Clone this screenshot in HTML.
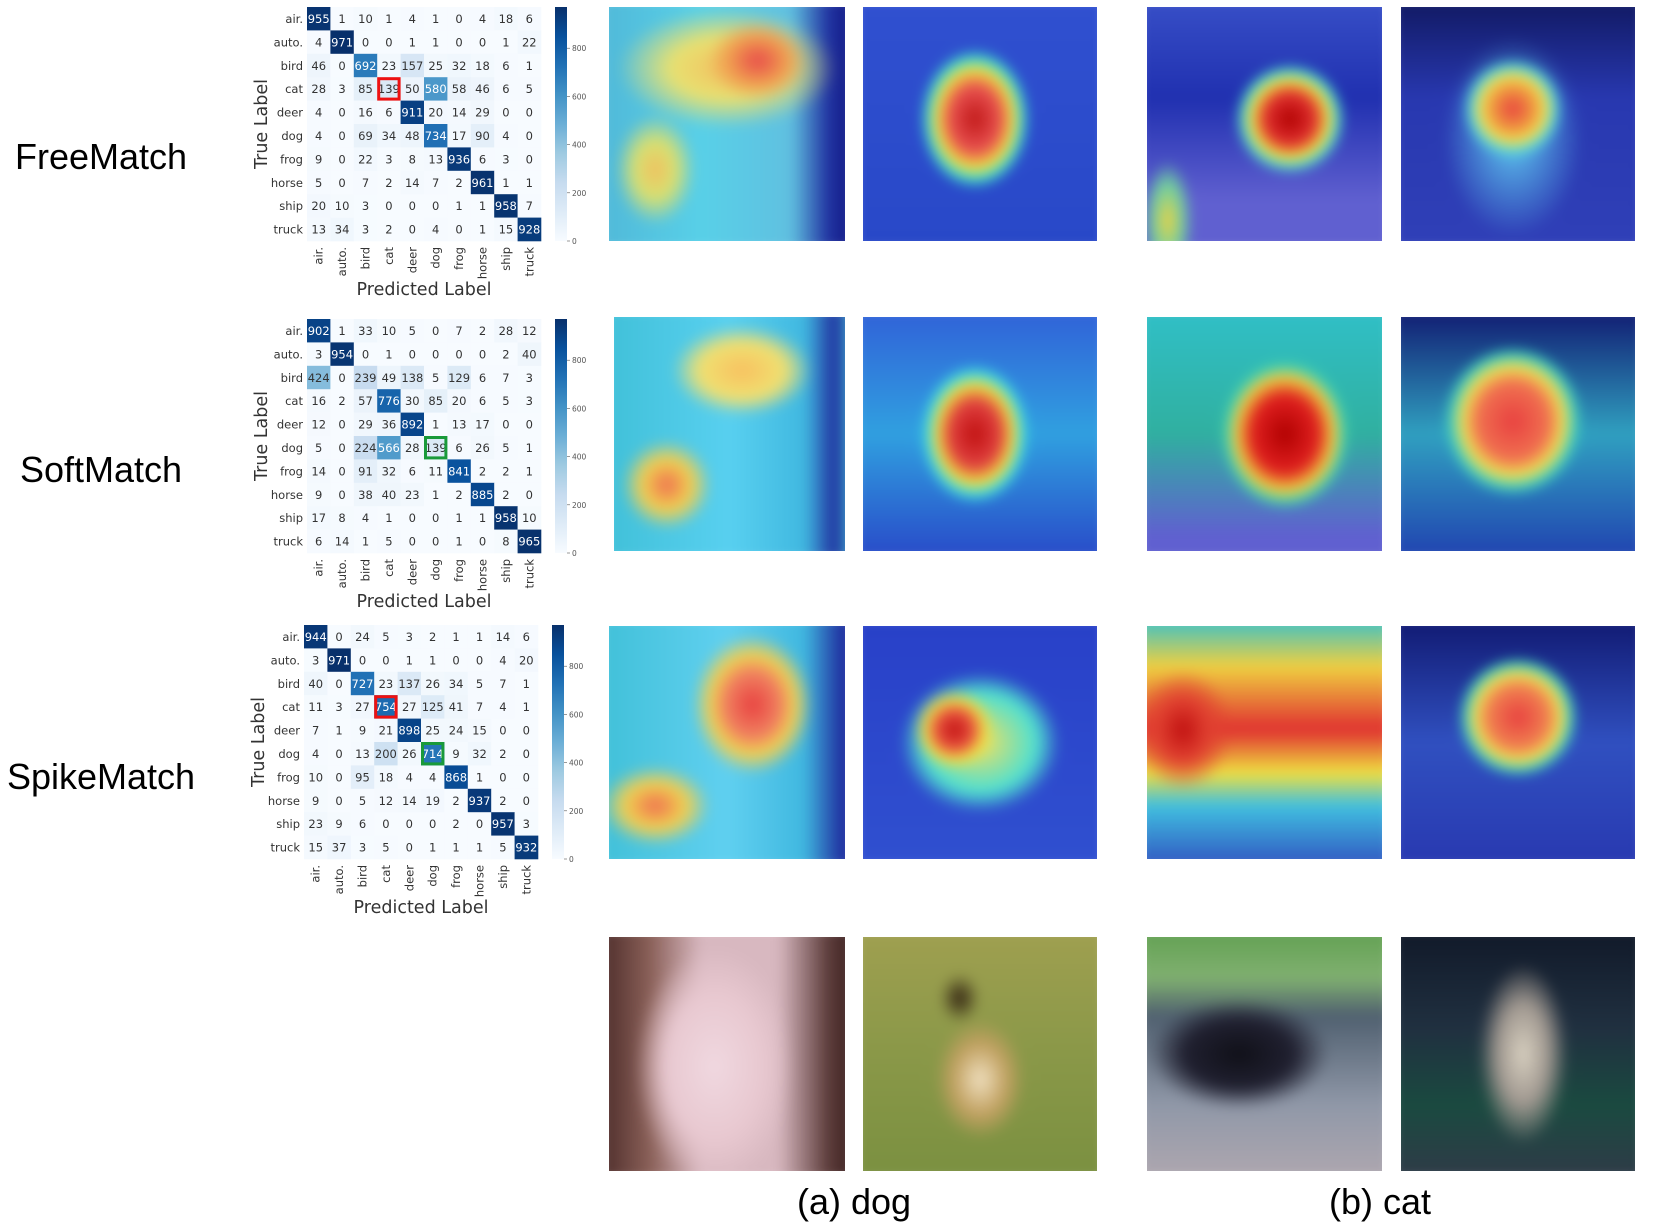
<!DOCTYPE html>
<html><head><meta charset="utf-8">
<style>
body{margin:0;width:1655px;height:1221px;background:#fff;position:relative;overflow:hidden;font-family:"Liberation Sans",sans-serif}
.lbl{position:absolute;font-size:36px;color:#000;transform:translate(-50%,-50%);white-space:nowrap}
.img{position:absolute;overflow:hidden}
.img>div{position:absolute;inset:-10px;filter:blur(6px)}
svg{position:absolute;left:0;top:0;font-family:"DejaVu Sans",sans-serif}
</style></head><body>
<div class="lbl" style="left:101px;top:157px">FreeMatch</div>
<div class="lbl" style="left:101px;top:470px">SoftMatch</div>
<div class="lbl" style="left:101px;top:777px">SpikeMatch</div>
<div class="lbl" style="left:854px;top:1202px">(a) dog</div>
<div class="lbl" style="left:1380px;top:1202px">(b) cat</div>

<!-- row 1 heatmaps -->
<div class="img" style="left:609px;top:7px;width:236px;height:234px"><div style="background:radial-gradient(ellipse 50px 40px at 62% 25%,#e84a4a,#f0a050 60%,transparent 100%),radial-gradient(ellipse 110px 60px at 50% 28%,#f2c060,#e8e070 50%,transparent 100%),radial-gradient(ellipse 40px 55px at 22% 68%,#f0c060,#d8e070 50%,transparent 100%),linear-gradient(90deg,#50b8d8,#58d0e8 40%,#60c0e0 75%,#2030a0 90%,#101880)"></div></div>
<div class="img" style="left:863px;top:7px;width:234px;height:234px"><div style="background:radial-gradient(ellipse 55px 70px at 48% 48%,#c01818,#e85050 45%,#f0e040 70%,#40e0d0 85%,transparent 100%),linear-gradient(#3050d0,#2848c8)"></div></div>
<div class="img" style="left:1147px;top:7px;width:235px;height:234px"><div style="background:radial-gradient(ellipse 55px 55px at 60% 48%,#b00000,#e03030 45%,#f0e040 70%,#50e0d0 85%,transparent 100%),radial-gradient(ellipse 25px 60px at 12% 88%,#f0d040,#70d0a0 60%,transparent 100%),linear-gradient(#3850c8,#2030b0 40%,#6060d0 80%)"></div></div>
<div class="img" style="left:1401px;top:7px;width:234px;height:234px"><div style="background:radial-gradient(ellipse 50px 50px at 48% 44%,#e84040,#f0a040 45%,#f0e050 65%,#50d8e0 85%,transparent 100%),radial-gradient(ellipse 70px 100px at 48% 55%,#60c8f0,transparent 100%),linear-gradient(#101860,#2838b0 40%,#3040b8)"></div></div>

<!-- row 2 -->
<div class="img" style="left:614px;top:317px;width:231px;height:234px"><div style="background:radial-gradient(ellipse 70px 45px at 55% 25%,#f8c060,#f0e070 60%,transparent 100%),radial-gradient(ellipse 45px 45px at 25% 70%,#f07050,#f0d050 55%,transparent 100%),linear-gradient(90deg,#40c0d8,#58d0f0 50%,#40b8e0 80%,#2030a0 92%,#40c0d0)"></div></div>
<div class="img" style="left:863px;top:317px;width:234px;height:234px"><div style="background:radial-gradient(ellipse 55px 70px at 48% 50%,#c01010,#e04040 45%,#f0e040 70%,#40e0e0 85%,transparent 100%),linear-gradient(#3060d8,#30a0e0 50%,#2848c8)"></div></div>
<div class="img" style="left:1147px;top:317px;width:235px;height:234px"><div style="background:radial-gradient(ellipse 65px 75px at 58% 50%,#b00000,#e02020 50%,#f0d040 75%,#40d0b0 90%,transparent 100%),linear-gradient(#30c0c8,#30b0a0 50%,#6060d0 90%)"></div></div>
<div class="img" style="left:1401px;top:317px;width:234px;height:234px"><div style="background:radial-gradient(ellipse 70px 75px at 48% 45%,#e84040,#f07050 50%,#f0e050 72%,#40d0c0 88%,transparent 100%),linear-gradient(#101870,#30a0c0 50%,#2040b0)"></div></div>

<!-- row 3 -->
<div class="img" style="left:609px;top:626px;width:236px;height:233px"><div style="background:radial-gradient(ellipse 60px 70px at 60% 35%,#e84040,#f08060 45%,#f0d050 70%,transparent 100%),radial-gradient(ellipse 55px 40px at 22% 75%,#f07050,#f0d050 55%,transparent 100%),linear-gradient(90deg,#40c0d8,#60d0f0 50%,#40b8e0 80%,#2030a0 95%)"></div></div>
<div class="img" style="left:863px;top:626px;width:234px;height:233px"><div style="background:radial-gradient(ellipse 40px 40px at 40% 45%,#c01010,#e85040 45%,#f0e040 75%,transparent 100%),radial-gradient(ellipse 80px 70px at 50% 50%,#f0e060,#50e0d0 70%,transparent 100%),linear-gradient(#2840c8,#3050d0)"></div></div>
<div class="img" style="left:1147px;top:626px;width:235px;height:233px"><div style="background:radial-gradient(ellipse 50px 60px at 18% 45%,#c01010,#e04030 50%,transparent 100%),linear-gradient(#30c0d0 0%,#f0d040 20%,#e03030 45%,#f0e040 62%,#40c0e0 75%,#3050c0 100%)"></div></div>
<div class="img" style="left:1401px;top:626px;width:234px;height:233px"><div style="background:radial-gradient(ellipse 60px 60px at 50% 40%,#e84040,#f08050 50%,#f0e050 72%,#40d0c0 88%,transparent 100%),linear-gradient(#101870,#3050c0 50%,#2838b0)"></div></div>

<!-- photos -->
<div class="img" style="left:609px;top:937px;width:236px;height:234px"><div style="background:radial-gradient(ellipse 80px 120px at 45% 55%,#f0d8e0,#e8c8d0 60%,transparent 100%),linear-gradient(90deg,#4a2a28,#8a6058 20%,#d8b8c0 40%,#d8b8c0 70%,#5a3a38 90%,#3a2020)"></div></div>
<div class="img" style="left:863px;top:937px;width:234px;height:234px"><div style="background:radial-gradient(ellipse 45px 60px at 50% 60%,#f0e0c0,#c0a060 60%,transparent 100%),radial-gradient(ellipse 20px 25px at 42% 28%,#302010,transparent 100%),linear-gradient(#a0a050,#8a9848 50%,#7a9040)"></div></div>
<div class="img" style="left:1147px;top:937px;width:235px;height:234px"><div style="background:radial-gradient(ellipse 90px 55px at 40% 50%,#101018,#202030 60%,transparent 100%),linear-gradient(#60a050,#80b070 20%,#506070 35%,#9098a8 70%,#b0a8b0)"></div></div>
<div class="img" style="left:1401px;top:937px;width:234px;height:234px"><div style="background:radial-gradient(ellipse 45px 90px at 52% 50%,#d8d0c0,#a09890 55%,transparent 100%),linear-gradient(#101828,#203040 40%,#1a4a40 70%,#303a48)"></div></div>

<svg id="s" width="1655" height="1221" xmlns="http://www.w3.org/2000/svg"></svg>
<script>
const M=[
{x:307,y:7,box:[[3,3,'#ee1111']],d:[[955,1,10,1,4,1,0,4,18,6],[4,971,0,0,1,1,0,0,1,22],[46,0,692,23,157,25,32,18,6,1],[28,3,85,139,50,580,58,46,6,5],[4,0,16,6,911,20,14,29,0,0],[4,0,69,34,48,734,17,90,4,0],[9,0,22,3,8,13,936,6,3,0],[5,0,7,2,14,7,2,961,1,1],[20,10,3,0,0,0,1,1,958,7],[13,34,3,2,0,4,0,1,15,928]]},
{x:307,y:319,box:[[5,5,'#1a9a3a']],d:[[902,1,33,10,5,0,7,2,28,12],[3,954,0,1,0,0,0,0,2,40],[424,0,239,49,138,5,129,6,7,3],[16,2,57,776,30,85,20,6,5,3],[12,0,29,36,892,1,13,17,0,0],[5,0,224,566,28,139,6,26,5,1],[14,0,91,32,6,11,841,2,2,1],[9,0,38,40,23,1,2,885,2,0],[17,8,4,1,0,0,1,1,958,10],[6,14,1,5,0,0,1,0,8,965]]},
{x:304,y:625,box:[[3,3,'#ee1111'],[5,5,'#1a9a3a']],d:[[944,0,24,5,3,2,1,1,14,6],[3,971,0,0,1,1,0,0,4,20],[40,0,727,23,137,26,34,5,7,1],[11,3,27,754,27,125,41,7,4,1],[7,1,9,21,898,25,24,15,0,0],[4,0,13,200,26,714,9,32,2,0],[10,0,95,18,4,4,868,1,0,0],[9,0,5,12,14,19,2,937,2,0],[23,9,6,0,0,0,2,0,957,3],[15,37,3,5,0,1,1,1,5,932]]}];
const L=['air.','auto.','bird','cat','deer','dog','frog','horse','ship','truck'];
const C=[[247,251,255],[222,235,247],[198,219,239],[158,202,225],[107,174,214],[66,146,198],[33,113,181],[8,81,156],[8,48,107]];
function col(v){let t=Math.min(v/971,1)*8,i=Math.min(Math.floor(t),7),f=t-i;return 'rgb('+C[i].map((c,k)=>Math.round(c+(C[i+1][k]-c)*f)).join(',')+')';}
let h='',cs=23.4;
M.forEach(m=>{
 m.d.forEach((r,i)=>r.forEach((v,j)=>{let x=m.x+j*cs,y=m.y+i*cs;
  h+=`<rect x="${x}" y="${y}" width="${cs+0.3}" height="${cs+0.3}" fill="${col(v)}"/>`;
  h+=`<text x="${x+cs/2}" y="${y+cs/2+4.3}" font-size="11.5" text-anchor="middle" fill="${v>500?'#fff':'#333'}">${v}</text>`;}));
 L.forEach((l,i)=>{h+=`<text x="${m.x-4}" y="${m.y+i*cs+cs/2+4.3}" font-size="11.5" text-anchor="end" fill="#333">${l}</text>`;
  let cx=m.x+i*cs+cs/2+4,cy=m.y+10*cs+6;h+=`<text transform="translate(${cx},${cy}) rotate(-90)" font-size="11.5" text-anchor="end" fill="#333">${l}</text>`;});
 m.box.forEach(b=>{h+=`<rect x="${m.x+b[1]*cs+1.5}" y="${m.y+b[0]*cs+1.5}" width="${cs-3}" height="${cs-3}" fill="none" stroke="${b[2]}" stroke-width="3"/>`;});
 let bx=m.x+248,H=10*cs;
 h+=`<defs><linearGradient id="g${m.y}" x1="0" y1="1" x2="0" y2="0">`+C.map((c,k)=>`<stop offset="${k/8}" stop-color="rgb(${c})"/>`).join('')+`</linearGradient></defs>`;
 h+=`<rect x="${bx}" y="${m.y}" width="12" height="${H}" fill="url(#g${m.y})"/>`;
 [0,200,400,600,800].forEach(t=>{let y=m.y+H-t/971*H;h+=`<line x1="${bx+12}" x2="${bx+15}" y1="${y}" y2="${y}" stroke="#555" stroke-width="0.6"/><text x="${bx+17}" y="${y+3}" font-size="7.5" fill="#555">${t}</text>`;});
 h+=`<text x="${m.x+117}" y="${m.y+H+54}" font-size="17.5" text-anchor="middle" fill="#333">Predicted Label</text>`;
 h+=`<text transform="translate(${m.x-40},${m.y+H/2}) rotate(-90)" font-size="17.5" text-anchor="middle" fill="#333">True Label</text>`;
});
document.getElementById('s').innerHTML=h;
</script>
</body></html>
